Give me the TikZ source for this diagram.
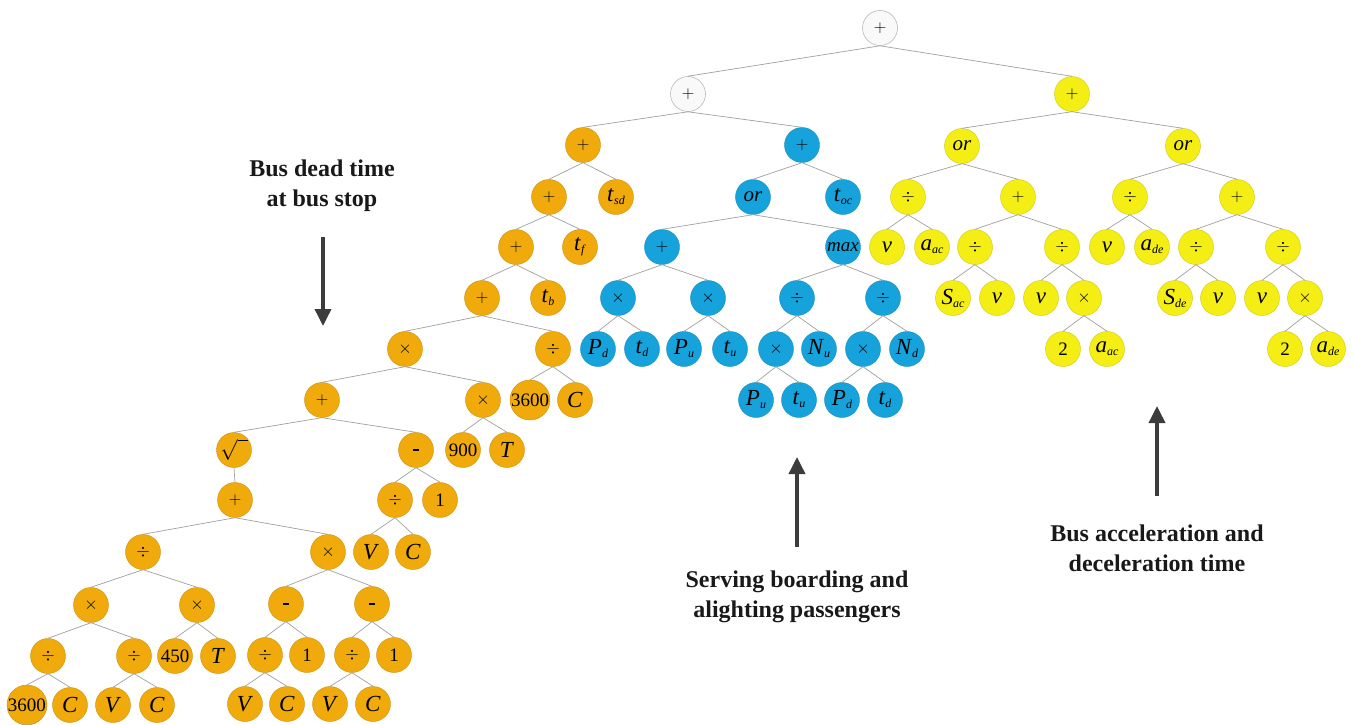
\documentclass[tikz,border=0pt]{standalone}
\usepackage{fontspec}
\setmainfont{Liberation Serif}
\usetikzlibrary{arrows.meta}
\definecolor{org}{RGB}{240,170,12}
\definecolor{blu}{RGB}{22,163,220}
\definecolor{yel}{RGB}{244,238,20}
\definecolor{edgc}{RGB}{160,160,160}
\definecolor{darkg}{RGB}{60,60,60}
\newcommand\vs[2]{{\fontsize{23}{23}\selectfont\textit{#1}}\raisebox{-0.35ex}{\fontsize{12}{12}\selectfont\textit{#2}}}
\newcommand\vv[1]{{\fontsize{23}{23}\selectfont\textit{#1}}}
\newcommand\dsh{\rule{6pt}{2.6pt}}
\tikzset{
  nd/.style={circle, minimum size=35pt, inner sep=0pt, fill=#1, draw=#1!85!black, line width=0.4pt, font=\fontsize{19}{19}\selectfont},
  on/.style={nd=org},
  bn/.style={nd=blu},
  yn/.style={nd=yel},
  wn/.style={circle, minimum size=35pt, inner sep=0pt, fill=gray!5, draw=gray!55, line width=0.6pt, font=\fontsize{19}{19}\selectfont},
  edg/.style={draw=edgc, line width=0.7pt},
  bigarrow/.style={draw=darkg, line width=3.6pt, -{Triangle[length=17pt,width=16pt]}},
  lab/.style={font=\fontsize{24}{30}\selectfont\bfseries, align=center, text=black!90}
}
\begin{document}
\begin{tikzpicture}[x=1pt,y=-1pt]
\useasboundingbox (0,0) rectangle (1354,725);
% top
\node[wn] (r) at (880,28) {$+$};
\node[wn] (a) at (688,94) {$+$};
\node[yn] (b) at (1072,94) {$+$};
% orange chain
\node[on] (o1) at (583,145) {$+$};
\node[on] (o2) at (549,197) {$+$};
\node[on] (tsd) at (616,197) {\vs{t}{sd}};
\node[on] (o3) at (516,247) {$+$};
\node[on] (tf) at (580,247) {\vs{t}{f}};
\node[on] (o4) at (482,298) {$+$};
\node[on] (tb) at (548,298) {\vs{t}{b}};
\node[on] (o5) at (405,349) {$\times$};
\node[on] (o6) at (553,349) {$\div$};
\node[on] (n3600a) at (530,400) {3600};
\node[on] (ca) at (575,400) {\vv{C}};
\node[on] (o7) at (322,400) {$+$};
\node[on] (o8) at (483,400) {$\times$};
\node[on] (n900) at (463,450) {900};
\node[on] (ta) at (507,450) {\vv{T}};
\node[on] (sq) at (234,450) {\fontsize{22}{22}\selectfont$\sqrt{\phantom{o}}$};
\node[on] (m1) at (416,450) {\dsh};
\node[on] (d1) at (395,500) {$\div$};
\node[on] (one1) at (440,500) {1};
\node[on] (va) at (371,552) {\vv{V}};
\node[on] (cb) at (413,552) {\vv{C}};
\node[on] (p2) at (235,500) {$+$};
\node[on] (d2) at (143,552) {$\div$};
\node[on] (x2) at (328,552) {$\times$};
\node[on] (x3) at (91,605) {$\times$};
\node[on] (x4) at (197,605) {$\times$};
\node[on] (d3) at (48,656) {$\div$};
\node[on] (d4) at (134,656) {$\div$};
\node[on] (n450) at (175,656) {450};
\node[on] (tc) at (218,656) {\vv{T}};
\node[on] (n3600b) at (27,705) {3600};
\node[on] (cc) at (70,705) {\vv{C}};
\node[on] (vb) at (113,705) {\vv{V}};
\node[on] (cd) at (157,705) {\vv{C}};
\node[on] (m2) at (286,604) {\dsh};
\node[on] (m3) at (372,604) {\dsh};
\node[on] (d5) at (265,655) {$\div$};
\node[on] (one2) at (307,655) {1};
\node[on] (d6) at (352,655) {$\div$};
\node[on] (one3) at (394,655) {1};
\node[on] (vc) at (245,704) {\vv{V}};
\node[on] (ce) at (287,704) {\vv{C}};
\node[on] (vd) at (330,704) {\vv{V}};
\node[on] (cf) at (373,704) {\vv{C}};
% blue
\node[bn] (b1) at (802,145) {$+$};
\node[bn] (bor) at (753,197) {\fontsize{21}{21}\selectfont\textit{or}};
\node[bn] (toc) at (843,197) {\vs{t}{oc}};
\node[bn] (bp) at (662,247) {$+$};
\node[bn] (bmax) at (843,247) {\textit{max}};
\node[bn] (bx1) at (618,298) {$\times$};
\node[bn] (bx2) at (708,298) {$\times$};
\node[bn] (bd1) at (797,298) {$\div$};
\node[bn] (bd2) at (883,298) {$\div$};
\node[bn] (pd1) at (598,349) {\vs{P}{d}};
\node[bn] (td1) at (642,349) {\vs{t}{d}};
\node[bn] (pu1) at (684,349) {\vs{P}{u}};
\node[bn] (tu1) at (730,349) {\vs{t}{u}};
\node[bn] (bx3) at (776,349) {$\times$};
\node[bn] (nu) at (819,349) {\vs{N}{u}};
\node[bn] (bx4) at (863,349) {$\times$};
\node[bn] (ndd) at (907,349) {\vs{N}{d}};
\node[bn] (pu2) at (756,400) {\vs{P}{u}};
\node[bn] (tu2) at (799,400) {\vs{t}{u}};
\node[bn] (pd2) at (842,400) {\vs{P}{d}};
\node[bn] (td2) at (885,400) {\vs{t}{d}};
% yellow
\node[yn] (yor1) at (962,146) {\fontsize{21}{21}\selectfont\textit{or}};
\node[yn] (yor2) at (1183,146) {\fontsize{21}{21}\selectfont\textit{or}};
\node[yn] (yd1) at (908,197) {$\div$};
\node[yn] (yp1) at (1018,197) {$+$};
\node[yn] (yd2) at (1130,197) {$\div$};
\node[yn] (yp2) at (1237,197) {$+$};
\node[yn] (yv1) at (887,247) {\vv{v}};
\node[yn] (yaac1) at (932,247) {\vs{a}{ac}};
\node[yn] (yd3) at (975,247) {$\div$};
\node[yn] (yd4) at (1062,247) {$\div$};
\node[yn] (yv2) at (1107,247) {\vv{v}};
\node[yn] (yade1) at (1152,247) {\vs{a}{de}};
\node[yn] (yd5) at (1196,247) {$\div$};
\node[yn] (yd6) at (1283,247) {$\div$};
\node[yn] (ysac) at (953,298) {\vs{S}{ac}};
\node[yn] (yv3) at (997,298) {\vv{v}};
\node[yn] (yv4) at (1041,298) {\vv{v}};
\node[yn] (yx1) at (1084,298) {$\times$};
\node[yn] (ysde) at (1175,298) {\vs{S}{de}};
\node[yn] (yv5) at (1218,298) {\vv{v}};
\node[yn] (yv6) at (1262,298) {\vv{v}};
\node[yn] (yx2) at (1305,298) {$\times$};
\node[yn] (y21) at (1063,349) {2};
\node[yn] (yaac2) at (1107,349) {\vs{a}{ac}};
\node[yn] (y22) at (1285,349) {2};
\node[yn] (yade2) at (1328,349) {\vs{a}{de}};
% edges
\foreach \p/\c in {r/a, r/b, a/o1, a/b1,
  o1/o2, o1/tsd, o2/o3, o2/tf, o3/o4, o3/tb, o4/o5, o4/o6, o6/n3600a, o6/ca,
  o5/o7, o5/o8, o8/n900, o8/ta, o7/sq, o7/m1, m1/d1, m1/one1, d1/va, d1/cb,
  sq/p2, p2/d2, p2/x2, d2/x3, d2/x4, x3/d3, x3/d4, d3/n3600b, d3/cc, d4/vb, d4/cd,
  x4/n450, x4/tc, x2/m2, x2/m3, m2/d5, m2/one2, d5/vc, d5/ce, m3/d6, m3/one3, d6/vd, d6/cf,
  b1/bor, b1/toc, bor/bp, bor/bmax, bp/bx1, bp/bx2, bx1/pd1, bx1/td1, bx2/pu1, bx2/tu1,
  bmax/bd1, bmax/bd2, bd1/bx3, bd1/nu, bx3/pu2, bx3/tu2, bd2/bx4, bd2/ndd, bx4/pd2, bx4/td2,
  b/yor1, b/yor2, yor1/yd1, yor1/yp1, yd1/yv1, yd1/yaac1, yp1/yd3, yp1/yd4,
  yd3/ysac, yd3/yv3, yd4/yv4, yd4/yx1, yx1/y21, yx1/yaac2,
  yor2/yd2, yor2/yp2, yd2/yv2, yd2/yade1, yp2/yd5, yp2/yd6,
  yd5/ysde, yd5/yv5, yd6/yv6, yd6/yx2, yx2/y22, yx2/yade2}
  \draw[edg] (\p.south) -- (\c.north);
% labels and arrows
\node[lab] (l1) at (322,186) {Bus dead time\\at bus stop};
\coordinate (a1s) at (323,237);
\coordinate (a1e) at (323,326);
\draw[bigarrow] (a1s) -- (a1e);
\node[lab] (l2) at (797,597) {Serving boarding and\\alighting passengers};
\coordinate (a2s) at (797,547);
\coordinate (a2e) at (797,457);
\draw[bigarrow] (a2s) -- (a2e);
\node[lab] (l3) at (1157,548) {Bus acceleration and\\deceleration time};
\coordinate (a3s) at (1157,496);
\coordinate (a3e) at (1157,406);
\draw[bigarrow] (a3s) -- (a3e);
\end{tikzpicture}
\end{document}
